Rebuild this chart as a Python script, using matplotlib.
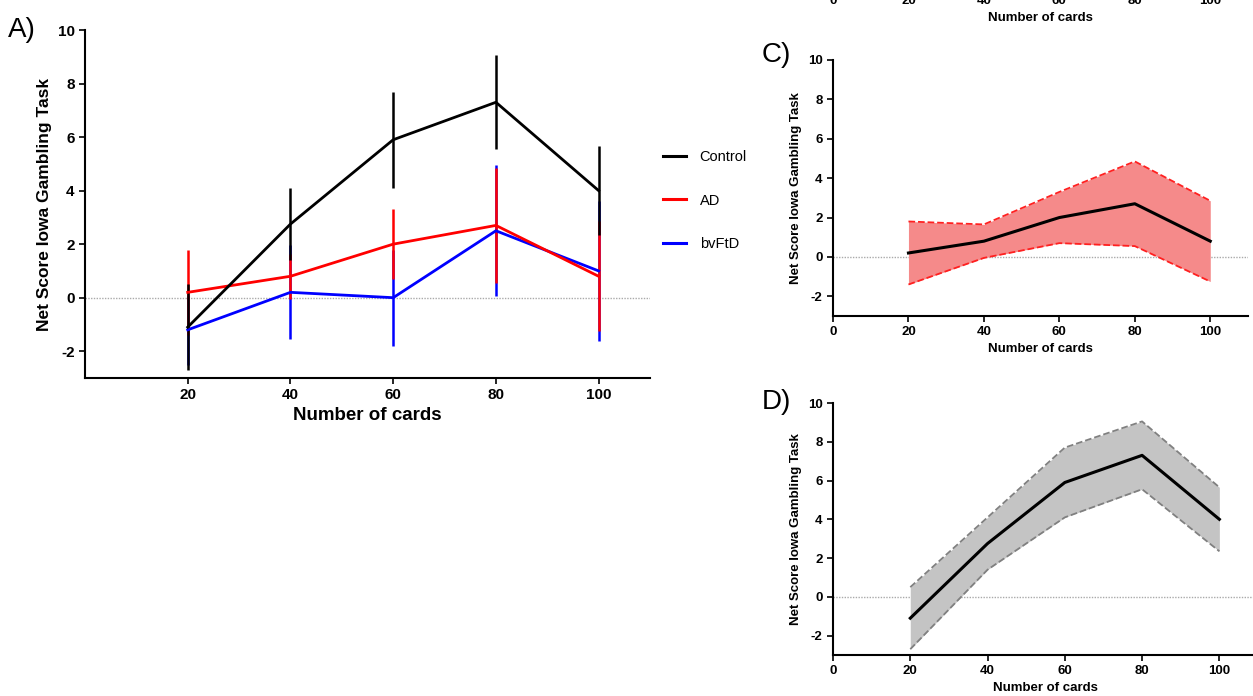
import matplotlib
matplotlib.use("Agg")
import matplotlib.pyplot as plt
from matplotlib.lines import Line2D

plt.rcParams['font.family'] = ['Liberation Sans', 'DejaVu Sans']

# data
cards = [20, 40, 60, 80, 100]
control_mean = [-1.1, 2.75, 5.9, 7.3, 4.0]
control_err = [1.6, 1.35, 1.8, 1.75, 1.65]
ad_mean = [0.2, 0.8, 2.0, 2.7, 0.8]
ad_err = [1.6, 0.85, 1.3, 2.15, 2.05]
ftd_mean = [-1.2, 0.2, 0.0, 2.5, 1.0]
ftd_err = [1.3, 1.75, 1.8, 2.45, 2.6]
yticks = [-2, 0, 2, 4, 6, 8, 10]
groups = ['Control', 'AD', 'bvFtD']
colors = ['black', '#ff0000', '#0000ff']

W, H = 1253, 696
fig = plt.figure(figsize=(W / 100, H / 100), dpi=100)


def px_axes(left, top, right, bottom):
    return fig.add_axes([left / W, 1 - bottom / H, (right - left) / W, (bottom - top) / H])


def style(ax, fs_tick, fs_lab, zero_label):
    ax.set_xlim(0, 110)
    ax.set_ylim(-3, 10)
    for s in ['top', 'right']:
        ax.spines[s].set_visible(False)
    for s in ['left', 'bottom']:
        ax.spines[s].set_linewidth(1.5)
    ax.set_yticks(yticks)
    ax.set_yticklabels([str(v) for v in yticks], fontsize=fs_tick, fontweight='bold')
    xt = ([0] if zero_label else []) + cards
    ax.set_xticks(xt)
    ax.set_xticklabels([str(v) for v in xt], fontsize=fs_tick, fontweight='bold')
    ax.tick_params(width=1.2, length=4)
    ax.axhline(0, color='#aaaaaa', lw=1, ls=(0, (1, 1)), zorder=0)
    ax.set_xlabel('Number of cards', fontsize=fs_lab, fontweight='bold', labelpad=3)
    ax.set_ylabel('Net Score Iowa Gambling Task', fontsize=fs_lab, fontweight='bold')


# panel A
axA = px_axes(85, 30, 650, 378)
style(axA, 11, 13.5, False)
axA.set_ylabel('Net Score Iowa Gambling Task', fontsize=12.5, fontweight='bold')
for m, e, c in [(ftd_mean, ftd_err, colors[2]),
                (ad_mean, ad_err, colors[1]),
                (control_mean, control_err, colors[0])]:
    axA.errorbar(cards, m, yerr=e, color=c, lw=2, elinewidth=1.8, capsize=0)
handles = [Line2D([], [], color=c, lw=2.2) for c in colors]
axA.legend(handles, groups, loc='center left', bbox_to_anchor=(1.0, 0.51), frameon=False,
           fontsize=10.5, labelspacing=2.05, handlelength=1.6, handletextpad=0.9)
fig.text(8 / W, 1 - 30 / H, 'A)', fontsize=20, va='center', ha='left')

# panel B (cut off at the top of the picture)
axB = px_axes(833, -274, 1248, -15)
style(axB, 9.5, 9.5, True)

# panel C
axC = px_axes(833, 60, 1248, 316)
style(axC, 9.5, 9.5, True)
lo = [m - e for m, e in zip(ad_mean, ad_err)]
hi = [m + e for m, e in zip(ad_mean, ad_err)]
axC.fill_between(cards, lo, hi, color='#f58a8a', lw=0)
axC.plot(cards, lo, color='#ff2020', ls='--', lw=1.3)
axC.plot(cards, hi, color='#ff2020', ls='--', lw=1.3)
axC.plot(cards, ad_mean, color='black', lw=2.2)
fig.text(762 / W, 1 - 55 / H, 'C)', fontsize=20, va='center', ha='left')

# panel D
axD = px_axes(833, 403, 1258, 655)
style(axD, 9.5, 9.5, True)
lo = [m - e for m, e in zip(control_mean, control_err)]
hi = [m + e for m, e in zip(control_mean, control_err)]
axD.fill_between(cards, lo, hi, color='#c4c4c4', lw=0)
axD.plot(cards, lo, color='#808080', ls='--', lw=1.3)
axD.plot(cards, hi, color='#808080', ls='--', lw=1.3)
axD.plot(cards, control_mean, color='black', lw=2.2)
fig.text(762 / W, 1 - 402 / H, 'D)', fontsize=20, va='center', ha='left')

fig.savefig('out.png', dpi=100)
